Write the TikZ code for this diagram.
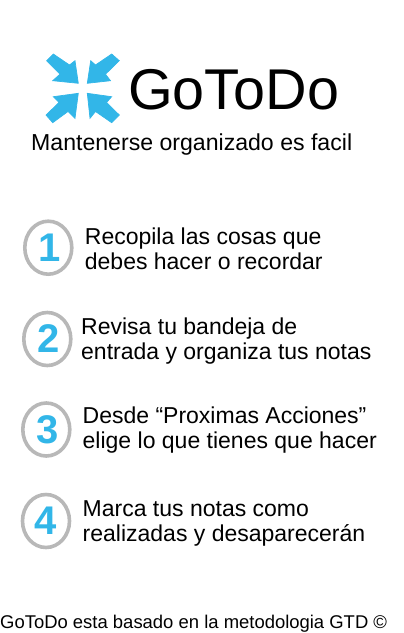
\documentclass[tikz,border=0pt]{standalone}
\usepackage{fontspec}
\setmainfont{Liberation Sans}
\usetikzlibrary{shapes.geometric, positioning}
\definecolor{gtdblue}{RGB}{50,182,232}
\definecolor{gtdgray}{RGB}{184,184,184}

\begin{document}
\begin{tikzpicture}[
    x=1pt,
    y=-1pt
  ]

  % Styles
  \tikzstyle{arrowpart}=[fill=gtdblue, draw=gtdblue, line width=0.7pt, line join=miter]
  \tikzstyle{numring}=[draw=gtdgray, line width=3.6pt, shape=ellipse, inner sep=0pt, minimum width=47pt, minimum height=53pt, text=gtdblue, font=\fontsize{40}{40}\bfseries\selectfont]
  \tikzstyle{steptext}=[anchor=base west, inner sep=0pt, font=\fontsize{23}{23}\selectfont]
  \tikzstyle{brand}=[anchor=base west, inner sep=0pt, font=\fontsize{57.5}{58}\selectfont]
  \tikzstyle{slogan}=[anchor=base west, inner sep=0pt, font=\fontsize{23.1}{23}\selectfont]
  \tikzstyle{footer}=[anchor=base west, inner sep=0pt, font=\fontsize{18.45}{18}\selectfont]

  \useasboundingbox (0,0) rectangle (404,633);

  % Logo arrows
  \draw[arrowpart] (78.3,83.3) -- (75,60.7) -- (69.5,65) -- (53.3,54) -- (46.7,60.7) -- (60,74.2) -- (52.7,80.7) -- cycle;
  \draw[arrowpart] (87.3,83.3) -- (90.7,60.7) -- (95.5,65) -- (111.7,54) -- (119.3,60.7) -- (105.5,74.2) -- (110.5,80.7) -- cycle;
  \draw[arrowpart] (78.3,93.3) -- (53.3,96.7) -- (59,102.5) -- (46,115) -- (52.7,122.7) -- (68,111.5) -- (75,118.3) -- cycle;
  \draw[arrowpart] (87.3,93.3) -- (90,118.3) -- (95.5,111.5) -- (111.7,122.7) -- (119.3,115) -- (106.5,102.5) -- (111.7,96.7) -- cycle;

  % Title
  \node[brand] (title) at (128,109) {GoToDo};
  \node[slogan] (motto) at (31,150) {Mantenerse organizado es facil};

  % Numbered steps
  \node[numring] (one) at (48.3,247.7) {\hspace{2pt}1};
  \node[numring] (two) at (47.3,339) {\hspace{2pt}2};
  \node[numring] (three) at (46.3,429.5) {\hspace{2pt}3};
  \node[numring] (four) at (46,521) {4};

  \node[steptext] (onea) at (84.7,244) {Recopila las cosas que};
  \node[steptext] (oneb) at (84.7,269) {debes hacer o recordar};
  \node[steptext] (twoa) at (81,334) {Revisa tu bandeja de};
  \node[steptext] (twob) at (81,359) {entrada y organiza tus notas};
  \node[steptext] (threea) at (82.5,423) {Desde “Proximas Acciones”};
  \node[steptext] (threeb) at (82.5,448) {elige lo que tienes que hacer};
  \node[steptext] (foura) at (82.5,516) {Marca tus notas como};
  \node[steptext] (fourb) at (82.5,541) {realizadas y desaparecerán};

  % Footer
  \node[footer] (base) at (0,628) {GoToDo esta basado en la metodologia GTD ©};

\end{tikzpicture}
\end{document}
